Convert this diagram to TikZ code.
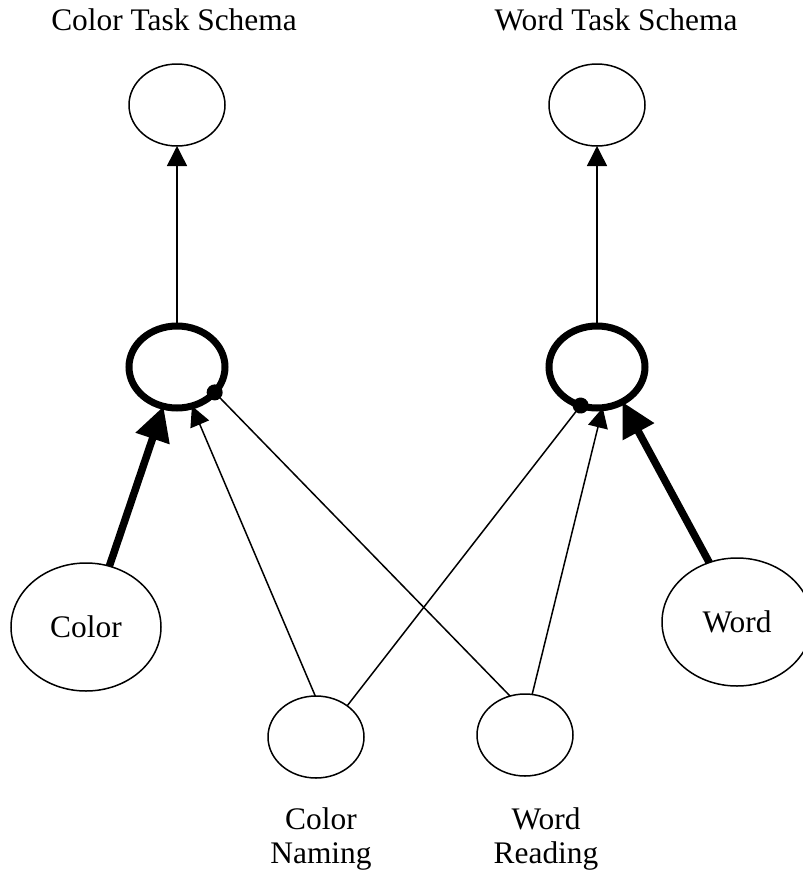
\documentclass[tikz,border=0pt]{standalone}
\usepackage{fontspec}
\setmainfont{Liberation Serif}
\usetikzlibrary{arrows.meta,shapes.geometric}

\begin{document}
\begin{tikzpicture}[x=0.5pt,y=-0.5pt,%one unit is one pixel of the figure
    font=\fontsize{15.7}{17}\selectfont,
    unit/.style={ellipse,draw,line width=0.75pt,inner sep=0pt,outer sep=0pt,
                 minimum width=48pt,minimum height=41pt},
    inunit/.style={unit,minimum width=75pt,minimum height=64pt},%input layer
    hidunit/.style={unit,line width=3.5pt},%hidden layer
    excite/.style={line width=0.75pt,-{Triangle[length=10pt,width=10pt]}},
    strongexcite/.style={line width=3.75pt,-{Triangle[length=17pt,width=17pt]}},
    inhibit/.style={line width=0.75pt,-{Circle[length=8pt]},shorten >=-4pt}%dot sits on the border
    ]
\useasboundingbox (0,0) rectangle (803,873);
\node[anchor=base] (ctslabel) at (174,30) {Color Task Schema};
\node[anchor=base] (wtslabel) at (616,30) {Word Task Schema};
\node[unit] (cts) at (177,105) {};
\node[unit] (wts) at (597,105) {};
\node[hidunit] (ch) at (177,367) {};
\node[hidunit] (wh) at (597,367) {};
\node[inunit] (color) at (86,627) {Color};
\node[inunit] (word) at (737,622) {Word};
\node[unit] (cn) at (316,737) {};
\node[unit] (wr) at (525,735) {};
\node[anchor=north,align=center] (cnlabel) at (321,801) {Color\\Naming};
\node[anchor=north,align=center] (wrlabel) at (546,801) {Word\\Reading};
\draw[excite] (ch.north) -- (cts.south);
\draw[excite] (wh.north) -- (wts.south);
\draw[strongexcite] (color.69) -- (ch.251);
\draw[strongexcite] (word.115) -- (wh.306);
\draw[excite] (cn.91) -- (ch.291);
\draw[excite] (wr.80) -- (wh.278);
\draw[inhibit] (wr.111) -- (ch.326);
\draw[inhibit] (cn.45) -- (wh.247);
\end{tikzpicture}
\end{document}
